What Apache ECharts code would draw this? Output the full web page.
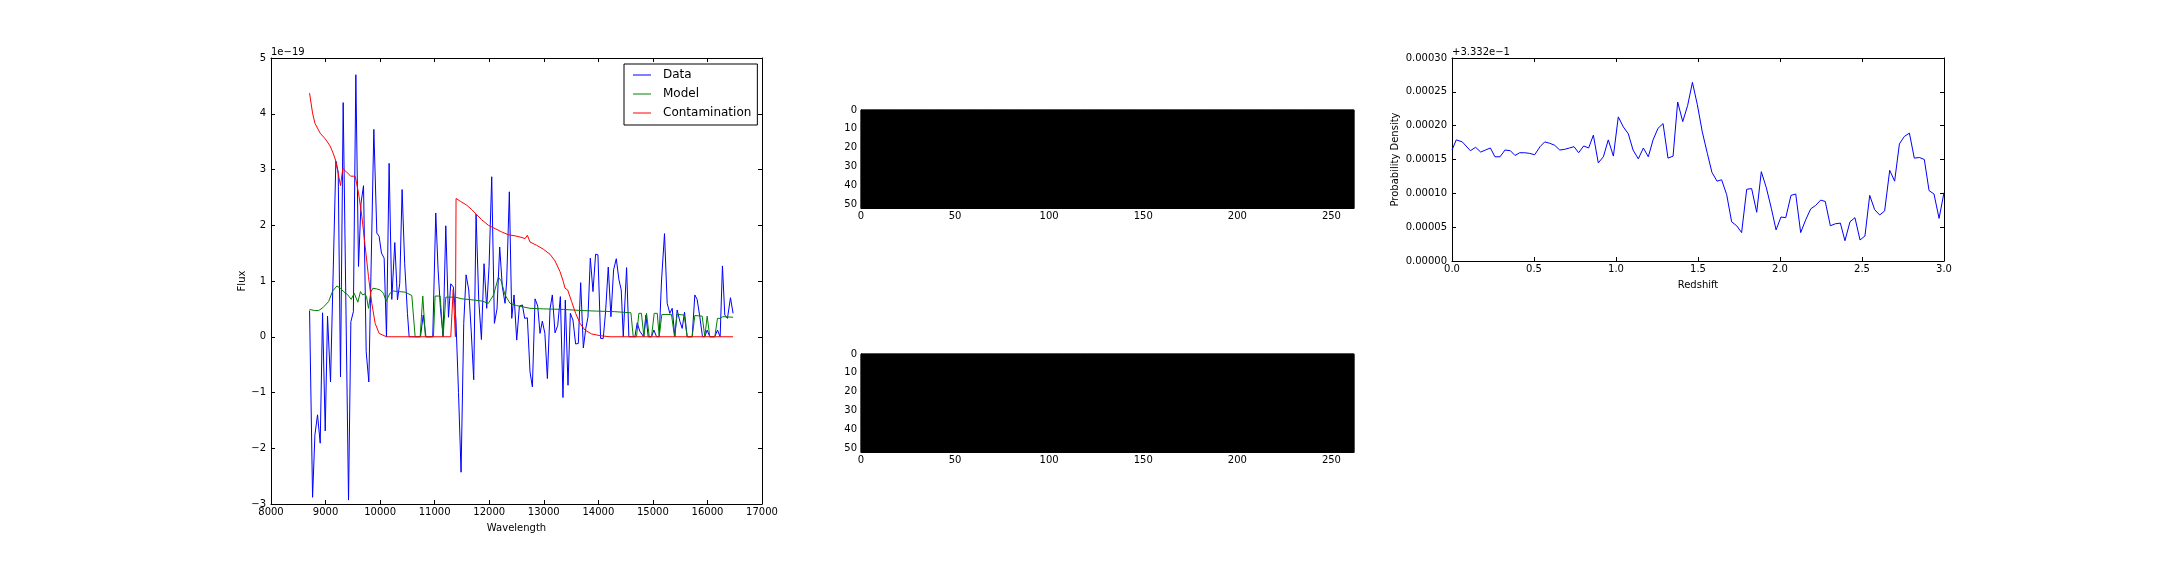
<!DOCTYPE html>
<html><head><meta charset="utf-8">
<script src="https://cdn.jsdelivr.net/npm/echarts@6/dist/echarts.min.js"></script>
<style>html,body{margin:0;padding:0;background:#fff}#c{width:2160px;height:576px}</style>
</head><body><div id="c"></div>
<script>
// ---- Spectrum panel (flux in units of 1e-19) ----
const dataWave = [8707,8762,8805,8853,8902,8945,8994,9036,9091,9189,9232,9274,9323,9421,9464,9510,9555,9604,9650,9696,9745,9793,9885,9940,9982,10025,10074,10117,10165,10214,10269,10318,10360,10403,10450,10501,10532,10580,10640,10690,10740,10790,10840,10890,10965,11020,11063,11106,11155,11204,11253,11295,11344,11390,11437,11484,11533,11576,11625,11670,11716,11759,11808,11857,11905,11954,11997,12046,12095,12143,12192,12240,12290,12320,12369,12413,12455,12504,12553,12608,12650,12699,12748,12791,12840,12889,12931,12974,13020,13066,13115,13157,13206,13255,13304,13352,13395,13444,13487,13535,13584,13633,13676,13725,13770,13810,13853,13902,13950,13993,14042,14090,14133,14182,14231,14280,14329,14378,14420,14457,14518,14560,14610,14670,14713,14760,14830,14872,14914,14975,15018,15067,15116,15158,15213,15262,15311,15354,15403,15445,15494,15537,15580,15628,15720,15769,15811,15860,15909,15952,15995,16043,16135,16184,16233,16275,16318,16367,16422,16470];
const dataFlux = [0.47,-2.88,-1.76,-1.40,-1.91,0.43,-1.69,0.37,-0.81,3.15,2.95,-0.72,4.20,-2.93,0.27,0.45,4.70,1.26,2.40,2.71,-0.27,-0.81,3.72,1.86,1.80,1.50,1.41,0.00,3.11,0.67,1.69,0.66,0.96,2.64,1.32,0.42,0.00,0.00,0.00,0.00,0.00,0.39,0.00,0.00,0.00,2.22,1.20,0.51,0.00,1.99,0.35,0.95,0.89,0.30,-1.00,-2.43,0.24,1.11,0.84,0.10,-0.77,2.20,0.66,-0.05,1.31,0.51,1.26,2.87,0.24,0.50,1.61,0.90,0.60,1.00,2.60,0.33,0.75,-0.06,0.55,0.57,0.33,0.34,-0.63,-0.90,0.68,0.55,0.06,0.28,0.06,-0.75,0.50,0.75,0.07,0.20,0.72,-1.09,0.66,-0.87,0.42,0.30,-0.13,-0.12,0.97,-0.20,0.15,0.35,1.41,0.81,1.48,1.47,-0.03,-0.03,0.45,1.25,0.36,1.20,1.40,1.02,0.84,0.00,1.24,0.00,0.00,0.00,0.25,0.10,0.00,0.39,0.00,0.00,0.12,0.00,0.00,1.00,1.85,0.60,0.42,0.51,0.00,0.48,0.28,0.15,0.44,0.00,0.00,0.75,0.67,0.36,0.00,0.00,0.12,0.00,0.00,0.12,0.00,1.27,0.39,0.33,0.70,0.42];

const modelWave = [8707,8800,8872,8950,9055,9130,9208,9270,9330,9400,9470,9525,9560,9592,9640,9680,9720,9750,9788,9830,9867,9930,10001,10060,10111,10180,10245,10350,10459,10581,10642,10734,10782,10830,10978,11008,11100,11155,11204,11380,11500,11710,11870,11985,12080,12168,12220,12290,12381,12500,12747,13000,13358,13700,13968,14300,14597,14640,14700,14743,14790,14835,14884,14933,14975,15024,15080,15116,15164,15341,15396,15445,15573,15628,15720,15769,15903,15952,15995,16043,16135,16184,16240,16280,16470];
const modelFlux = [0.49,0.47,0.47,0.52,0.63,0.82,0.91,0.87,0.81,0.76,0.67,0.78,0.75,0.62,0.81,0.75,0.77,0.72,0.51,0.80,0.87,0.86,0.84,0.78,0.64,0.78,0.82,0.81,0.80,0.74,0.00,0.00,0.73,0.00,0.00,0.73,0.73,0.00,0.71,0.71,0.68,0.66,0.64,0.60,0.75,1.07,1.00,0.75,0.60,0.56,0.51,0.50,0.49,0.47,0.46,0.45,0.43,0.00,0.00,0.42,0.42,0.00,0.42,0.00,0.00,0.42,0.42,0.00,0.40,0.40,0.00,0.40,0.39,0.00,0.00,0.38,0.37,0.00,0.37,0.00,0.00,0.33,0.33,0.36,0.35];

const contamWave = [8707,8762,8805,8902,8994,9085,9140,9183,9232,9274,9317,9370,9400,9421,9460,9543,9604,9665,9726,9787,9848,9909,9982,10117,11295,11340,11380,11392,11470,11588,11680,11771,11860,11985,12107,12229,12350,12473,12600,12657,12699,12748,12870,12992,13114,13206,13297,13358,13390,13438,13511,13584,13664,13755,13877,14030,14213,16470];
const contamFlux = [4.37,4.01,3.83,3.65,3.55,3.42,3.29,3.17,2.93,2.71,3.02,2.97,3.00,2.92,2.88,2.88,2.58,2.16,1.62,1.08,0.60,0.24,0.06,0.00,0.00,0.85,0.00,2.48,2.43,2.36,2.28,2.19,2.10,2.00,1.94,1.88,1.83,1.81,1.78,1.76,1.82,1.70,1.64,1.57,1.48,1.36,1.17,0.99,0.87,0.84,0.63,0.42,0.24,0.12,0.05,0.02,0.00,0.00];

const waveTicks = [8000,17000,1000];
const fluxTicks = [-3,5,1];

// ---- 2D images (all zero) ----
const imageCols = 262, imageRows = 52;
const imageTop = Array.from({length: imageRows}, () => new Array(imageCols).fill(0));
const imageBottom = Array.from({length: imageRows}, () => new Array(imageCols).fill(0));
const imageXTicks = [0, imageCols, 50];
const imageYTicks = [0, imageRows, 10];

// ---- Redshift probability (offset +3.332e-1) ----
const pzOffsetLabel = '+3.332e\u22121';
const redshift = [0.000,0.026,0.063,0.112,0.144,0.175,0.204,0.234,0.262,0.293,0.323,0.356,0.384,0.413,0.443,0.474,0.504,0.537,0.565,0.596,0.626,0.657,0.687,0.716,0.744,0.772,0.803,0.833,0.862,0.892,0.923,0.953,0.984,1.014,1.045,1.075,1.104,1.136,1.167,1.197,1.226,1.256,1.287,1.317,1.348,1.376,1.407,1.437,1.466,1.496,1.526,1.557,1.585,1.616,1.644,1.675,1.705,1.736,1.766,1.797,1.827,1.858,1.886,1.917,1.947,1.976,2.006,2.035,2.067,2.096,2.126,2.157,2.187,2.217,2.248,2.276,2.307,2.337,2.368,2.396,2.427,2.457,2.488,2.518,2.547,2.577,2.608,2.638,2.669,2.699,2.728,2.758,2.789,2.819,2.850,2.880,2.909,2.939,2.970,3.000];
const probDensity = [0.000164,0.000179,0.000176,0.000163,0.000168,0.000161,0.000164,0.000167,0.000154,0.000154,0.000164,0.000163,0.000156,0.000160,0.000160,0.000159,0.000157,0.000169,0.000176,0.000174,0.000171,0.000164,0.000165,0.000167,0.000169,0.000160,0.000170,0.000167,0.000186,0.000145,0.000154,0.000179,0.000155,0.000213,0.000198,0.000188,0.000164,0.000151,0.000167,0.000154,0.000179,0.000196,0.000203,0.000152,0.000155,0.000235,0.000206,0.000230,0.000264,0.000231,0.000191,0.000159,0.000131,0.000118,0.000120,0.000098,0.000058,0.000052,0.000042,0.000106,0.000107,0.000072,0.000132,0.000108,0.000078,0.000046,0.000065,0.000064,0.000097,0.000099,0.000042,0.000061,0.000077,0.000082,0.000090,0.000088,0.000052,0.000055,0.000056,0.000030,0.000058,0.000064,0.000031,0.000037,0.000097,0.000076,0.000068,0.000074,0.000134,0.000118,0.000173,0.000184,0.000189,0.000152,0.000153,0.000150,0.000104,0.000099,0.000063,0.000101];
const zTicks = [0,3,0.5];
const pzTicks = [0,0.0003,0.00005];

// ---------------- build ----------------
const FONT = 'DejaVu Sans';
const pair = (xs, ys) => xs.map((x, i) => [x, ys[i]]);
const minusFmt = v => (v < 0 ? '\u2212' + Math.abs(v) : String(v));
const cells = img => { const out = []; img.forEach((row, r) => row.forEach((v, c) => out.push([c, r, v]))); return out; };
const lbl = (extra) => Object.assign({color:'#000', fontFamily:FONT, fontSize:10}, extra||{});
const line = {show:true, onZero:false, lineStyle:{color:'#000', width:1}};
const tickIn = {show:true, inside:true, length:4, lineStyle:{color:'#000', width:1}};

function valAxis(grid, pos, t, extra) {
  return Object.assign({type:'value', gridIndex:grid, position:pos, min:t[0], max:t[1], interval:t[2],
    axisLine:line, axisTick:tickIn, splitLine:{show:false}, axisLabel:{show:false}}, extra||{});
}

function renderCell(params, api) {
  const c = api.value(0), r = api.value(1), v = api.value(2);
  const p0 = api.coord([c, r]), p1 = api.coord([c + 1, r + 1]);
  const g = Math.round(255 * Math.max(0, Math.min(1, v)));
  return {type:'rect', shape:{x:Math.min(p0[0],p1[0]) - 0.3, y:Math.min(p0[1],p1[1]) - 0.3,
    width:Math.abs(p1[0]-p0[0]) + 0.6, height:Math.abs(p1[1]-p0[1]) + 0.6},
    style:{fill:'rgb('+g+','+g+','+g+')'}};
}

function imgX(grid) {
  return {type:'value', gridIndex:grid, position:'bottom', min:imageXTicks[0], max:imageXTicks[1], interval:imageXTicks[2],
    axisLine:line, axisTick:{show:false}, splitLine:{show:false},
    axisLabel:lbl({margin:3, showMaxLabel:false})};
}
function imgY(grid) {
  return {type:'value', gridIndex:grid, inverse:true, min:imageYTicks[0], max:imageYTicks[1], interval:imageYTicks[2],
    axisLine:line, axisTick:{show:false}, splitLine:{show:false},
    axisLabel:lbl({margin:4, showMaxLabel:false})};
}

const chart = echarts.init(document.getElementById('c'), null, {renderer:'canvas'});
chart.setOption({
  animation:false,
  backgroundColor:'#fff',
  textStyle:{fontFamily:FONT},
  grid:[
    {left:271, top:58, width:491, height:446},
    {left:861, top:110, width:493, height:98, show:true, backgroundColor:'#000', borderColor:'#000'},
    {left:861, top:354, width:493, height:98, show:true, backgroundColor:'#000', borderColor:'#000'},
    {left:1452, top:58, width:492, height:203}
  ],
  xAxis:[
    valAxis(0,'bottom',waveTicks,{axisLabel:lbl({margin:3, formatter:v=>String(v)}), name:'Wavelength', nameLocation:'middle', nameGap:19, nameTextStyle:lbl()}),
    valAxis(0,'top',waveTicks),
    imgX(1), imgX(2),
    valAxis(3,'bottom',zTicks,{axisLabel:lbl({margin:3, formatter:v=>v.toFixed(1)}), name:'Redshift', nameLocation:'middle', nameGap:19, nameTextStyle:lbl()}),
    valAxis(3,'top',zTicks)
  ],
  yAxis:[
    valAxis(0,'left',fluxTicks,{axisLabel:lbl({margin:5, formatter:minusFmt}), name:'Flux', nameLocation:'middle', nameGap:24, nameRotate:90, nameTextStyle:lbl()}),
    valAxis(0,'right',fluxTicks),
    imgY(1), imgY(2),
    valAxis(3,'left',pzTicks,{axisLabel:lbl({margin:5, formatter:v=>v.toFixed(5)}), name:'Probability Density', nameLocation:'middle', nameGap:52, nameRotate:90, nameTextStyle:lbl()}),
    valAxis(3,'right',pzTicks)
  ],
  legend:{
    data:['Data','Model','Contamination'], orient:'vertical', align:'left', left:624, top:64,
    padding:[4,6,5,9], itemWidth:18, itemHeight:1, itemGap:5, icon:'rect',
    borderColor:'#000', borderWidth:1, borderRadius:0, backgroundColor:'#fff',
    textStyle:{color:'#000', fontFamily:FONT, fontSize:12, lineHeight:14, padding:[0,0,0,7]}
  },
  graphic:[
    {type:'text', left:271, top:47, style:{text:'1e\u221219', fill:'#000', font:'10px "DejaVu Sans"'}},
    {type:'text', left:1452, top:47, style:{text:pzOffsetLabel, fill:'#000', font:'10px "DejaVu Sans"'}}
  ],
  series:[
    {name:'Data', type:'line', xAxisIndex:0, yAxisIndex:0, data:pair(dataWave,dataFlux), symbol:'none', lineStyle:{color:'#0000ff', width:1}, itemStyle:{color:'#0000ff'}},
    {name:'Model', type:'line', xAxisIndex:0, yAxisIndex:0, data:pair(modelWave,modelFlux), symbol:'none', lineStyle:{color:'#008000', width:1}, itemStyle:{color:'#008000'}},
    {name:'Contamination', type:'line', xAxisIndex:0, yAxisIndex:0, data:pair(contamWave,contamFlux), symbol:'none', lineStyle:{color:'#ff0000', width:1}, itemStyle:{color:'#ff0000'}},
    {type:'custom', xAxisIndex:2, yAxisIndex:2, data:cells(imageTop), renderItem:renderCell, progressive:0, silent:true},
    {type:'custom', xAxisIndex:3, yAxisIndex:3, data:cells(imageBottom), renderItem:renderCell, progressive:0, silent:true},
    {type:'line', xAxisIndex:4, yAxisIndex:4, data:pair(redshift,probDensity), symbol:'none', lineStyle:{color:'#0000ff', width:1}}
  ]
});
</script>
</body></html>
